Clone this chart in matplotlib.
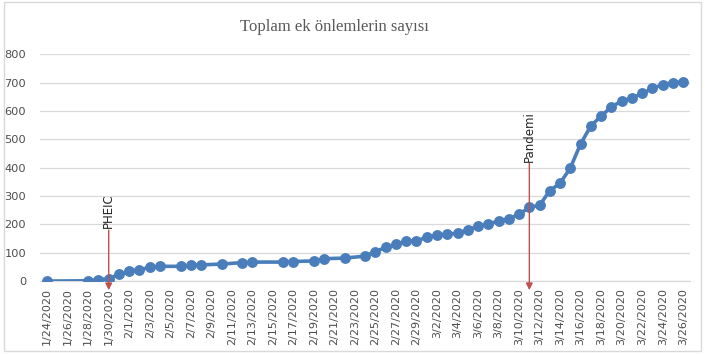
import matplotlib
matplotlib.use("Agg")
import matplotlib.pyplot as plt
import matplotlib.dates as mdates
import pandas as pd
from matplotlib.patches import Rectangle

dates = ["2020-01-24", "2020-01-28", "2020-01-29", "2020-01-30", "2020-01-31",
         "2020-02-01", "2020-02-02", "2020-02-03", "2020-02-04", "2020-02-06",
         "2020-02-07", "2020-02-08", "2020-02-10", "2020-02-12", "2020-02-13",
         "2020-02-16", "2020-02-17", "2020-02-19", "2020-02-20", "2020-02-22",
         "2020-02-24", "2020-02-25", "2020-02-26", "2020-02-27", "2020-02-28",
         "2020-02-29", "2020-03-01", "2020-03-02", "2020-03-03", "2020-03-04",
         "2020-03-05", "2020-03-06", "2020-03-07", "2020-03-08", "2020-03-09",
         "2020-03-10", "2020-03-11", "2020-03-12", "2020-03-13", "2020-03-14",
         "2020-03-15", "2020-03-16", "2020-03-17", "2020-03-18", "2020-03-19",
         "2020-03-20", "2020-03-21", "2020-03-22", "2020-03-23", "2020-03-24",
         "2020-03-25", "2020-03-26"]
values = [0, 1, 5, 8, 24, 35, 40, 48, 52, 52,
          56, 57, 60, 65, 67, 67, 69, 71, 79, 81,
          88, 104, 119, 129, 141, 142, 154, 161, 166, 168,
          181, 193, 202, 211, 220, 235, 260, 267, 319, 345,
          399, 484, 547, 582, 614, 635, 645, 662, 679, 693,
          699, 702]
title = "Toplam ek önlemlerin sayısı"
events = ["PHEIC", "Pandemi"]
event_dates = ["2020-01-30", "2020-03-11"]
event_start = [180, 415]
yticks = [0, 100, 200, 300, 400, 500, 600, 700, 800]

x = pd.to_datetime(dates)
ev_x = pd.to_datetime(event_dates)

fig = plt.figure(figsize=(7.05, 3.54), dpi=100)
ax = fig.add_axes([0.057, 0.206, 0.922, 0.641])

line_color = "#4a7ebb"
ax.plot(x, values, color=line_color, lw=2.6, marker="o", ms=6.8,
        markerfacecolor=line_color, markeredgecolor=line_color, zorder=3)

start = pd.Timestamp("2020-01-24")
end = pd.Timestamp("2020-03-26")
ax.set_xlim(start - pd.Timedelta(days=0.68), end + pd.Timedelta(days=0.68))
ax.set_ylim(0, 800)
ax.set_yticks(yticks)

ticks = pd.date_range(start, end, freq="2D")
ax.set_xticks(ticks)
ax.set_xticklabels([f"{d.month}/{d.day}/{d.year}" for d in ticks],
                   rotation=90, fontsize=8, color="#4d4d4d")
ax.tick_params(axis="y", labelsize=8.2, colors="#4d4d4d", length=0, pad=10)
ax.tick_params(axis="x", length=0, pad=5)

ax.grid(axis="y", color="#d9d9d9", lw=0.9)
ax.set_axisbelow(True)
for s in ["top", "right", "left"]:
    ax.spines[s].set_visible(False)
ax.spines["bottom"].set_color("#d9d9d9")
ax.spines["bottom"].set_linewidth(0.9)

arrow_color = "#c0504d"
for name, ex, ys in zip(events, ev_x, event_start):
    ax.annotate("", xy=(ex, -32), xytext=(ex, ys),
                arrowprops=dict(arrowstyle="-|>", color=arrow_color, lw=1.0,
                                mutation_scale=10, shrinkA=0, shrinkB=0),
                annotation_clip=False, zorder=4)
    ax.text(ex, ys + 6, name, rotation=90, ha="center", va="bottom",
            fontsize=8.5, color="#262626", zorder=5)

fig.text(0.475, 0.925, title, ha="center", va="center",
         fontsize=12, color="#595959", family="Liberation Serif")

fig.patches.append(Rectangle((0.005, 0.008), 0.99, 0.985, transform=fig.transFigure,
                             fill=False, edgecolor="#d9d9d9", lw=1.0))

fig.savefig("out.png", dpi=100)
